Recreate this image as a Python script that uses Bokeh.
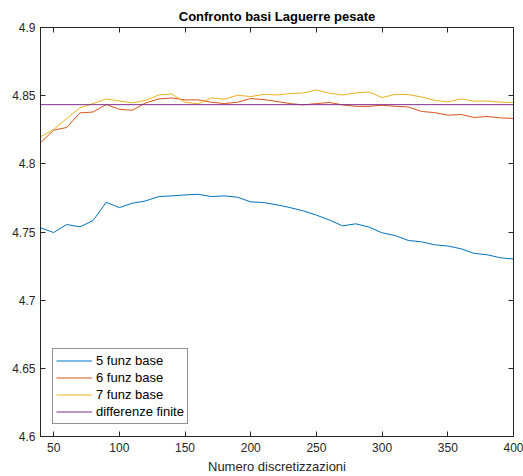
from bokeh.plotting import figure
from bokeh.models import (Range1d, FixedTicker, LinearAxis, CustomJSTickFormatter,
                          CustomLabelingPolicy, Legend, LegendItem)
from bokeh.embed import file_html
from bokeh.resources import INLINE

# Number of discretisation points
n_disc = [40, 50, 60, 70, 80, 90, 100, 110, 120, 130, 140, 150, 160, 170, 180,
          190, 200, 210, 220, 230, 240, 250, 260, 270, 280, 290, 300, 310, 320,
          330, 340, 350, 360, 370, 380, 390, 400]

base5 = [4.7531, 4.7496, 4.7555, 4.7538, 4.7584, 4.7718, 4.7679, 4.7711, 4.7728,
         4.7760, 4.7765, 4.7772, 4.7777, 4.7760, 4.7765, 4.7755, 4.7721, 4.7716,
         4.7699, 4.7679, 4.7655, 4.7624, 4.7587, 4.7545, 4.7560, 4.7536, 4.7494,
         4.7474, 4.7438, 4.7428, 4.7406, 4.7397, 4.7377, 4.7343, 4.7333, 4.7311,
         4.7302]

base6 = [4.8154, 4.8247, 4.8267, 4.8374, 4.8380, 4.8435, 4.8400, 4.8393, 4.8447,
         4.8476, 4.8483, 4.8469, 4.8469, 4.8452, 4.8442, 4.8452, 4.8479, 4.8471,
         4.8457, 4.8442, 4.8432, 4.8442, 4.8450, 4.8432, 4.8422, 4.8422, 4.8430,
         4.8422, 4.8417, 4.8384, 4.8376, 4.8357, 4.8362, 4.8340, 4.8347, 4.8337,
         4.8333]

base7 = [4.8198, 4.8252, 4.8333, 4.8410, 4.8442, 4.8476, 4.8461, 4.8447, 4.8466,
         4.8505, 4.8512, 4.8452, 4.8440, 4.8483, 4.8474, 4.8503, 4.8493, 4.8510,
         4.8505, 4.8515, 4.8520, 4.8542, 4.8518, 4.8505, 4.8520, 4.8527, 4.8486,
         4.8510, 4.8508, 4.8490, 4.8466, 4.8454, 4.8476, 4.8459, 4.8461, 4.8452,
         4.8450]

finite_diff = 4.8434

x_ticks = [50, 100, 150, 200, 250, 300, 350, 400]
y_ticks = [4.6, 4.65, 4.7, 4.75, 4.8, 4.85, 4.9]

labels = ["5 funz base", "6 funz base", "7 funz base", "differenze finite"]
colors = ["#0072BD", "#D95319", "#EDB120", "#7E2F8E"]

FONT = "Liberation Sans"
AX = "#262626"

p = figure(width=523, height=476, output_backend="svg", toolbar_location=None,
           x_range=Range1d(40, 400), y_range=Range1d(4.6, 4.9),
           min_border_left=40, min_border_right=10, min_border_top=27,
           min_border_bottom=39, background_fill_color="white",
           border_fill_color="white")

p.title.text = "Confronto basi Laguerre pesate"
p.title.align = "center"
p.title.text_font = FONT
p.title.text_font_size = "13px"
p.title.text_font_style = "bold"
p.title.text_color = "black"
p.title.standoff = 8

p.grid.visible = False
p.outline_line_color = AX
p.outline_line_width = 1

fmt = CustomJSTickFormatter(code="return String(Math.round(tick*1000)/1000);")
blank_fmt = CustomJSTickFormatter(code="return '';")
no_labels = CustomLabelingPolicy(code="""
const ids = Array.from(indices);
for (const i of ids) indices.unset(i);
return indices;
""")


def style_axis(ax, ticks, show_labels=True):
    ax.ticker = FixedTicker(ticks=ticks)
    ax.major_tick_in = 5
    ax.major_tick_out = 0
    ax.minor_tick_line_color = None
    ax.axis_line_color = AX
    ax.major_tick_line_color = AX
    ax.major_label_text_font = FONT
    ax.major_label_text_color = AX
    ax.major_label_text_font_size = "12px"
    if show_labels:
        ax.formatter = fmt
        ax.major_label_standoff = 6
    else:
        # tick marks only on the mirrored sides of the box
        ax.formatter = blank_fmt
        ax.major_label_policy = no_labels
        ax.major_label_standoff = 0


style_axis(p.xaxis[0], x_ticks)
style_axis(p.yaxis[0], y_ticks)
p.yaxis[0].major_label_standoff = 5
p.xaxis[0].axis_label = "Numero discretizzazioni"
p.xaxis[0].axis_label_text_font = FONT
p.xaxis[0].axis_label_text_font_size = "13px"
p.xaxis[0].axis_label_text_font_style = "normal"
p.xaxis[0].axis_label_text_color = AX
p.xaxis[0].axis_label_standoff = 4

top_ax = LinearAxis()
style_axis(top_ax, x_ticks, show_labels=False)
p.add_layout(top_ax, "above")
right_ax = LinearAxis()
style_axis(right_ax, y_ticks, show_labels=False)
p.add_layout(right_ax, "right")

r5 = p.line(n_disc, base5, line_color=colors[0], line_width=1.0)
r6 = p.line(n_disc, base6, line_color=colors[1], line_width=1.0)
r7 = p.line(n_disc, base7, line_color=colors[2], line_width=1.0)
rfd = p.line([n_disc[0], n_disc[-1]], [finite_diff, finite_diff],
             line_color=colors[3], line_width=1.0)

legend = Legend(items=[LegendItem(label=labels[i], renderers=[r])
                       for i, r in enumerate([r5, r6, r7, rfd])],
                location=(12, 12), label_text_font=FONT,
                label_text_font_size="13px", label_text_color="black",
                label_height=17, glyph_height=17, glyph_width=36,
                label_standoff=4, spacing=0, padding=3, margin=0,
                border_line_color=AX, border_line_width=1,
                background_fill_color="white", background_fill_alpha=1)
p.add_layout(legend, "center")

open("out.html", "w").write(file_html(p, INLINE))
